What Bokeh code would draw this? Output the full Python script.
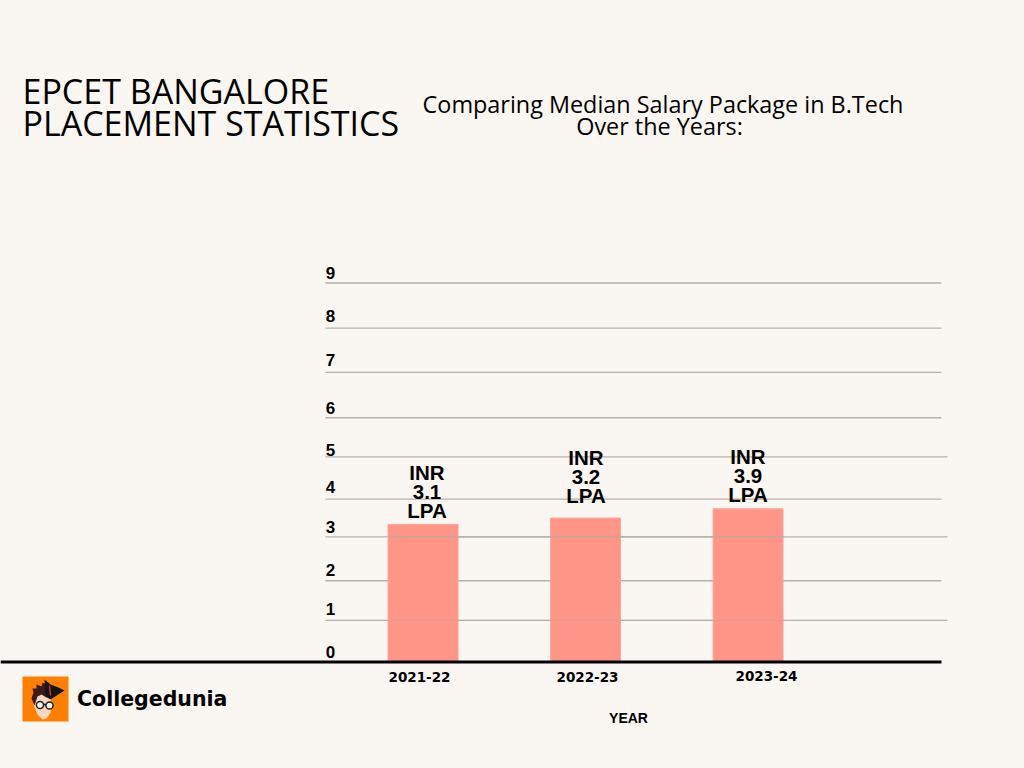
from bokeh.plotting import figure
from bokeh.models import Range1d
from bokeh.core.properties import value
from bokeh.embed import file_html
from bokeh.resources import INLINE

years = ["2021-22", "2022-23", "2023-24"]
bar_values = [3.28, 3.43, 3.65]
bar_labels = ["INR\n3.1\nLPA", "INR\n3.2\nLPA", "INR\n3.9\nLPA"]
tick_labels = ["0", "1", "2", "3", "4", "5", "6", "7", "8", "9"]
grid_levels = [0.0, 0.99, 1.93, 2.97, 3.87, 4.87, 5.80, 6.88, 7.93, 9.0]

BG = "#faf6f2"
SANS = value("Liberation Sans")
WIDE = value("DejaVu Sans")
PX = dict(x_range_name="px", y_range_name="px")

p = figure(width=1024, height=768, output_backend="svg", toolbar_location=None,
           x_range=Range1d(-2.6, 3.701), y_range=Range1d(-2.517, 15.72),
           x_axis_location=None, y_axis_location=None,
           min_border=0, min_border_left=0, min_border_right=0, min_border_top=0, min_border_bottom=0,
           background_fill_color=BG, border_fill_color=BG, outline_line_color=None)
p.grid.visible = False
p.extra_x_ranges["px"] = Range1d(0, 1024)
p.extra_y_ranges["px"] = Range1d(768, 0)

xs = list(range(len(years)))
# gridlines, drawn in page pixels horizontally, on the value scale vertically
long_lines = {1, 3, 5}
for i, lv in enumerate(grid_levels[1:], start=1):
    x1 = 947 if i in long_lines else 941
    p.line([325, x1], [661.5 - lv * 42.11] * 2, line_color="#b5b2ae", line_width=1.3, **PX)

p.vbar(x=xs, top=bar_values, bottom=0, width=70 / 162.5, fill_color="#ff9587",
       line_color="#ffa699", line_width=1)

for i in (1, 3):
    p.line([388, 783], [661.5 - grid_levels[i] * 42.11] * 2, line_color="#b5a8a0",
           line_width=1.3, line_alpha=0.5 if i == 1 else 0.9, **PX)

p.line([0, 941], [661.5, 661.5], line_color="#000000", line_width=3, **PX)

# value axis labels
p.text(x=[330] * 10, y=[651, 608, 569, 526, 486, 449, 407, 359, 315, 272], text=tick_labels,
       text_font=SANS, text_font_style="bold", text_font_size="17px", text_color="#000000",
       text_align="center", text_baseline="middle", **PX)

# bar labels
for x, y0, t in zip([426.5, 585.5, 747.5], [472, 457, 456], bar_labels):
    for j, line in enumerate(t.split("\n")):
        p.text(x=[x], y=[y0 + j * 19], text=[line], text_font=SANS, text_font_style="bold",
               text_font_size="20.5px", text_color="#000000", text_align="center",
               text_baseline="middle", **PX)

# category labels
p.text(x=[419, 587, 766], y=[676.5, 676.5, 675.5], text=years, text_font=WIDE, text_font_style="bold",
       text_font_size="13.5px", text_color="#000000", text_align="center",
       text_baseline="middle", **PX)
p.text(x=[628], y=[717.5], text=["YEAR"], text_font=SANS, text_font_style="bold",
       text_font_size="14px", text_color="#000000", text_align="center",
       text_baseline="middle", **PX)

# headings
for y, t in zip([90.5, 122.5], ["EPCET BANGALORE", "PLACEMENT STATISTICS"]):
    p.text(x=[22], y=[y], text=[t], text_font=value("Open Sans"), text_font_size="34px",
           text_color="#000000", text_align="left", text_baseline="middle", **PX)
for x, y, t in zip([662.5, 659], [103, 125], ["Comparing Median Salary Package in B.Tech", "Over the Years:"]):
    p.text(x=[x], y=[y], text=[t], text_font=value("Open Sans"), text_font_size="23.4px",
           text_color="#000000", text_align="center", text_baseline="middle", **PX)

# logo
p.quad(left=[22], right=[68], top=[676], bottom=[721], fill_color="#ff7f00", line_color=None, **PX)
p.patch([33, 37, 42, 46, 50, 51, 50, 44, 36, 33], [704, 714, 719, 718, 712, 705, 695, 692, 694, 698],
        fill_color="#f6d8c2", line_color=None, **PX)
p.patch([31, 33, 32, 36, 36, 41, 42, 46, 46, 50, 46, 41, 37, 35, 34],
        [698, 692, 688, 688, 684, 686, 682, 684, 692, 696, 697, 694, 696, 702, 705],
        fill_color="#3b1a17", line_color=None, **PX)
p.patch([44, 45, 50, 64, 58, 50], [679, 696, 699, 690, 687, 684], fill_color="#141414", line_color=None, **PX)
p.line([49, 50], [685, 695], line_color="#d0332b", line_width=1.5, **PX)
p.circle(x=[39.5, 49], y=[704.5, 705], radius=3.6, radius_units="screen", fill_color="#f4efe9",
         line_color="#1d1d1d", line_width=1.5, **PX)
p.line([43, 45.5], [704, 704], line_color="#1d1d1d", line_width=1.5, **PX)
p.text(x=[76.5], y=[698], text=["Collegedunia"], text_font=WIDE, text_font_style="bold",
       text_font_size="20.5px", text_color="#000000", text_align="left", text_baseline="middle", **PX)

html = file_html(p, INLINE)
html = html.replace("<head>", "<head><style>html,body{margin:0;padding:0;overflow:hidden;background:%s}</style>" % BG, 1)
open("out.html", "w").write(html)
